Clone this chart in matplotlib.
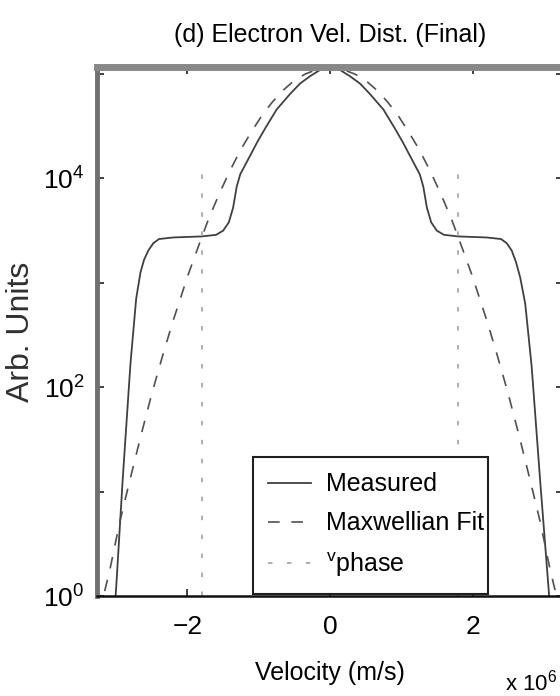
import numpy as np
import matplotlib
matplotlib.use("Agg")
import matplotlib.pyplot as plt
from matplotlib.ticker import LogLocator, FixedLocator, FuncFormatter, NullLocator

plt.rcParams['font.family'] = ['Liberation Sans', 'DejaVu Sans']
plt.rcParams['mathtext.fontset'] = 'custom'
plt.rcParams['mathtext.rm'] = 'Liberation Sans'
plt.rcParams['mathtext.it'] = 'Liberation Sans'

# velocity in units of 1e6 m/s, distribution as log10(arb. units)
v_meas = [-3.10, -3.00, -2.91, -2.80, -2.72, -2.66, -2.61, -2.55, -2.48, -2.40,
          -2.20, -2.00, -1.80, -1.60, -1.50, -1.42, -1.36, -1.31, -1.26, -1.19,
          -1.12, -1.02, -0.91, -0.75, -0.56, -0.42, -0.28, -0.14, 0.00,
          0.14, 0.28, 0.42, 0.56, 0.75, 0.91, 1.02, 1.12, 1.19, 1.26,
          1.31, 1.36, 1.42, 1.50, 1.60, 1.80, 2.00, 2.20, 2.40, 2.48,
          2.55, 2.61, 2.67, 2.74, 2.83, 2.95, 3.07, 3.17]
logf_meas = [-0.9, 0.09, 1.11, 2.23, 2.85, 3.10, 3.22, 3.31, 3.38, 3.42,
             3.435, 3.44, 3.445, 3.46, 3.50, 3.58, 3.72, 3.92, 4.04, 4.13,
             4.22, 4.35, 4.48, 4.66, 4.81, 4.91, 4.98, 5.04, 5.06,
             5.04, 4.98, 4.91, 4.81, 4.66, 4.48, 4.35, 4.22, 4.13, 4.04,
             3.92, 3.72, 3.58, 3.50, 3.46, 3.445, 3.44, 3.435, 3.42, 3.38,
             3.31, 3.20, 3.05, 2.80, 2.20, 1.10, 0.05, -0.9]

v_fit = [-3.30, -3.20, -3.09, -2.95, -2.83, -2.66, -2.50, -2.35, -2.21, -2.10,
         -1.99, -1.82, -1.70, -1.55, -1.40, -1.25, -1.10, -0.95, -0.80, -0.65,
         -0.50, -0.35, -0.20, 0.00, 0.20, 0.35, 0.50, 0.65, 0.80, 0.95,
         1.10, 1.25, 1.40, 1.55, 1.70, 1.82, 1.99, 2.10, 2.21, 2.35,
         2.50, 2.66, 2.83, 2.95, 3.09, 3.20, 3.30]
logf_fit = [-0.39, -0.06, 0.25, 0.71, 1.05, 1.52, 1.94, 2.30, 2.62, 2.85,
            3.08, 3.40, 3.62, 3.86, 4.08, 4.28, 4.45, 4.61, 4.74, 4.85,
            4.94, 5.00, 5.04, 5.06, 5.04, 5.00, 4.94, 4.85, 4.74, 4.61,
            4.45, 4.28, 4.08, 3.86, 3.62, 3.40, 3.08, 2.85, 2.62, 2.30,
            1.94, 1.52, 1.05, 0.71, 0.25, -0.06, -0.39]

v_phase = 1.79
phase_span = [1.0, 1.5e4]

fig = plt.figure(figsize=(5.6, 6.96), dpi=100)
ax = fig.add_axes([97/560, 100/696, 466/560, 529/696])

ax.plot(v_meas, 10**np.array(logf_meas), color='#404040', lw=1.3, label='Measured')
ax.plot(v_fit, 10**np.array(logf_fit), color='#505050', lw=1.2,
        linestyle=(0, (7, 7)), label='Maxwellian Fit')
for s in (-1, 1):
    ax.plot([s*v_phase, s*v_phase], phase_span, color='#a8a8a8', lw=1.3,
            linestyle=(0, (2.5, 8)), label=r'$\mathregular{^{v}phase}$' if s < 0 else None)

ax.set_yscale('log')
ax.set_xlim(-3.27, 3.27)
ax.set_ylim(1.0, 1.17e5)

ax.xaxis.set_major_locator(FixedLocator([-2, 0, 2]))
ax.xaxis.set_major_formatter(FuncFormatter(lambda x, p: '%d' % x if x >= 0 else '\u2212%d' % -x))
ax.yaxis.set_major_locator(LogLocator(base=10, numticks=10))
ax.yaxis.set_minor_locator(NullLocator())

def dec_label(y, pos):
    e = int(round(np.log10(y)))
    return r'$\mathregular{10^{%d}}$' % e if e % 2 == 0 else ''

ax.yaxis.set_major_formatter(FuncFormatter(dec_label))

ax.tick_params(which='both', direction='in', top=True, right=True,
               length=5, width=1.2, color='#202020', labelsize=19)
ax.tick_params(axis='x', pad=14)
ax.tick_params(axis='y', pad=9)

ax.spines['top'].set_color('#888888')
ax.spines['top'].set_linewidth(5)
ax.spines['left'].set_color('#707070')
ax.spines['left'].set_linewidth(3.5)
ax.spines['bottom'].set_color('#101010')
ax.spines['bottom'].set_linewidth(1.8)
ax.spines['right'].set_color('#101010')

ax.set_title('(d) Electron Vel. Dist. (Final)', fontsize=18, pad=18)
ax.set_xlabel('Velocity (m/s)', fontsize=18)
ax.xaxis.set_label_coords(0.5, -0.122)
ax.set_ylabel('Arb. Units', fontsize=23, color='#303030')
ax.yaxis.set_label_coords(-0.13, 0.5)

fig.text(505/560, 0.0, r'x $\mathregular{10^{6}}$', fontsize=16, ha='left', va='bottom')

leg = ax.legend(loc='lower left', bbox_to_anchor=(0.335, 0.004, 0.504, 0.28),
                mode='expand', borderaxespad=0, fontsize=18, frameon=True,
                fancybox=False, handlelength=1.7, handletextpad=0.6,
                labelspacing=0.6, borderpad=0.6)
leg.get_frame().set_edgecolor('#202020')
leg.get_frame().set_linewidth(1.5)
leg.get_frame().set_alpha(1.0)

fig.savefig('out.png', dpi=100)
